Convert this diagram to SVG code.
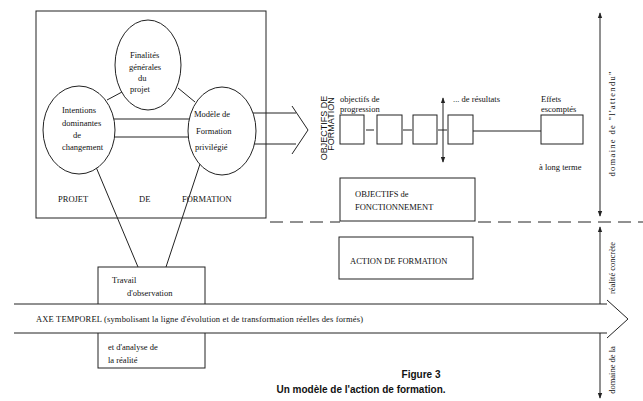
<svg xmlns="http://www.w3.org/2000/svg" width="643" height="401" viewBox="0 0 643 401">
<style>
.ln{fill:none;stroke:#222;stroke-width:1}
.bx{fill:#fff;stroke:#222;stroke-width:1}
.t{font-family:"Liberation Serif",serif;font-size:8.5px;fill:#111}
.s{font-family:"Liberation Sans",sans-serif;font-size:9px;fill:#111}
.cap{font-family:"Liberation Sans",sans-serif;font-size:10px;font-weight:bold;fill:#111}
.dash{fill:none;stroke:#222;stroke-width:1;stroke-dasharray:13 7}
</style>
<defs>
<marker id="ah" viewBox="0 0 8 8" refX="7" refY="4" markerWidth="6" markerHeight="6" orient="auto-start-reverse" markerUnits="userSpaceOnUse">
<path d="M0,1 L8,4 L0,7 z" fill="#222"/>
</marker>
</defs>
<rect width="643" height="401" fill="#fff"/>

<g id="connectors">
<line class="ln" x1="107" y1="100" x2="122" y2="92"/>
<line class="ln" x1="178" y1="88" x2="195" y2="102"/>
<line class="ln" x1="114" y1="119" x2="189" y2="119"/>
<line class="ln" x1="114.5" y1="137" x2="188" y2="137"/>
<line class="ln" x1="96" y1="167" x2="138" y2="267"/>
<line class="ln" x1="200" y1="164" x2="166" y2="267"/>
<line class="ln" x1="253" y1="113" x2="296" y2="113"/>
<line class="ln" x1="254" y1="144" x2="296" y2="144"/>
<polyline class="ln" points="292,106 308,130 292,154"/>
<line class="ln" x1="366" y1="130" x2="374" y2="130"/>
<line class="ln" x1="403" y1="130" x2="412" y2="130"/>
<line class="ln" x1="438" y1="130" x2="447" y2="130"/>
<line class="ln" x1="473" y1="131" x2="541" y2="131"/>
<line class="ln" x1="443" y1="98" x2="443" y2="162" marker-start="url(#ah)" marker-end="url(#ah)"/>
<line class="dash" x1="270" y1="222" x2="340" y2="222"/>
<line class="dash" x1="478" y1="222" x2="643" y2="222"/>
<line class="ln" x1="600" y1="13" x2="600" y2="216" marker-start="url(#ah)" marker-end="url(#ah)"/>
<line class="ln" x1="600" y1="227" x2="600" y2="304" marker-start="url(#ah)"/>
<line class="ln" x1="600" y1="333" x2="600" y2="398" marker-end="url(#ah)"/>
</g>

<g id="projet-de-formation">
<rect class="ln" x="36" y="11" width="230" height="207"/>
<text class="t" x="58" y="202">PROJET</text>
<text class="t" x="139" y="202">DE</text>
<text class="t" x="182" y="202">FORMATION</text>
</g>

<g id="finalites">
<ellipse class="bx" cx="148" cy="65" rx="33" ry="45"/>
<text class="t" x="130" y="58">Finalités</text>
<text class="t" x="129" y="70">générales</text>
<text class="t" x="138" y="81">du</text>
<text class="t" x="130" y="92">projet</text>
</g>

<g id="intentions">
<ellipse class="bx" cx="79" cy="130" rx="36" ry="44"/>
<text class="t" x="62" y="113">Intentions</text>
<text class="t" x="62" y="126">dominantes</text>
<text class="t" x="73" y="138">de</text>
<text class="t" x="62" y="150">changement</text>
</g>

<g id="modele">
<ellipse class="bx" cx="222" cy="131" rx="34" ry="44"/>
<text class="t" x="194" y="117">Modèle de</text>
<text class="t" x="196" y="134">Formation</text>
<text class="t" x="195" y="150">privilégié</text>
</g>

<g id="objectifs-de-formation">
<text class="s" transform="translate(327,128) rotate(-90)" text-anchor="middle">OBJECTIFS DE</text>
<text class="s" transform="translate(334,124) rotate(-90)" text-anchor="middle">FORMATION</text>
</g>

<g id="progression">
<text class="t" x="340" y="102">objectifs de</text>
<text class="t" x="340" y="112">progression</text>
<rect class="bx" x="340" y="115" width="24" height="29"/>
<rect class="bx" x="377" y="115" width="25" height="29"/>
<rect class="bx" x="413" y="115" width="24" height="29"/>
<rect class="bx" x="448" y="115" width="25" height="29"/>
<text class="t" x="453" y="102">... de résultats</text>
</g>

<g id="effets">
<rect class="bx" x="541" y="115" width="42" height="29"/>
<text class="t" x="541" y="102">Effets</text>
<text class="t" x="541" y="112">escomptés</text>
<text class="t" x="539" y="170">à long terme</text>
</g>

<g id="fonctionnement">
<rect class="bx" x="340" y="178" width="135" height="43"/>
<text class="t" x="355" y="197">OBJECTIFS de</text>
<text class="t" x="355" y="210">FONCTIONNEMENT</text>
</g>

<g id="action">
<rect class="bx" x="339" y="237" width="134" height="42"/>
<text class="t" x="350" y="264">ACTION DE FORMATION</text>
</g>

<g id="travail">
<rect class="bx" x="98" y="267" width="107" height="101"/>
<text class="t" x="112" y="283">Travail</text>
<text class="t" x="127" y="296">d'observation</text>
<text class="t" x="108" y="350">et d'analyse de</text>
<text class="t" x="108" y="363">la réalité</text>
</g>

<g id="axe-temporel">
<path d="M14,304 L607,304 L607,300 L628,319 L607,338 L607,333 L14,333 Z" fill="#fff" stroke="none"/>
<line class="ln" x1="14" y1="304" x2="607" y2="304"/>
<line class="ln" x1="14" y1="333" x2="607" y2="333"/>
<polyline class="ln" points="607,300 628,319 607,338"/>
<text class="t" x="36" y="322" textLength="327" lengthAdjust="spacing">AXE  TEMPOREL  (symbolisant la ligne d'évolution et de transformation réelles des formés)</text>
</g>

<g id="domaines">
<text class="t" transform="translate(615,124) rotate(-90)" text-anchor="middle" textLength="105" lengthAdjust="spacing">domaine de "l'attendu"</text>
<text class="t" transform="translate(615,268) rotate(-90)" text-anchor="middle">réalité concrète</text>
<text class="t" transform="translate(615,370) rotate(-90)" text-anchor="middle">domaine de la</text>
</g>

<g id="caption">
<text class="cap" x="421" y="378" text-anchor="middle">Figure 3</text>
<text class="cap" x="361" y="393" text-anchor="middle">Un modèle de l'action de formation.</text>
</g>
</svg>
